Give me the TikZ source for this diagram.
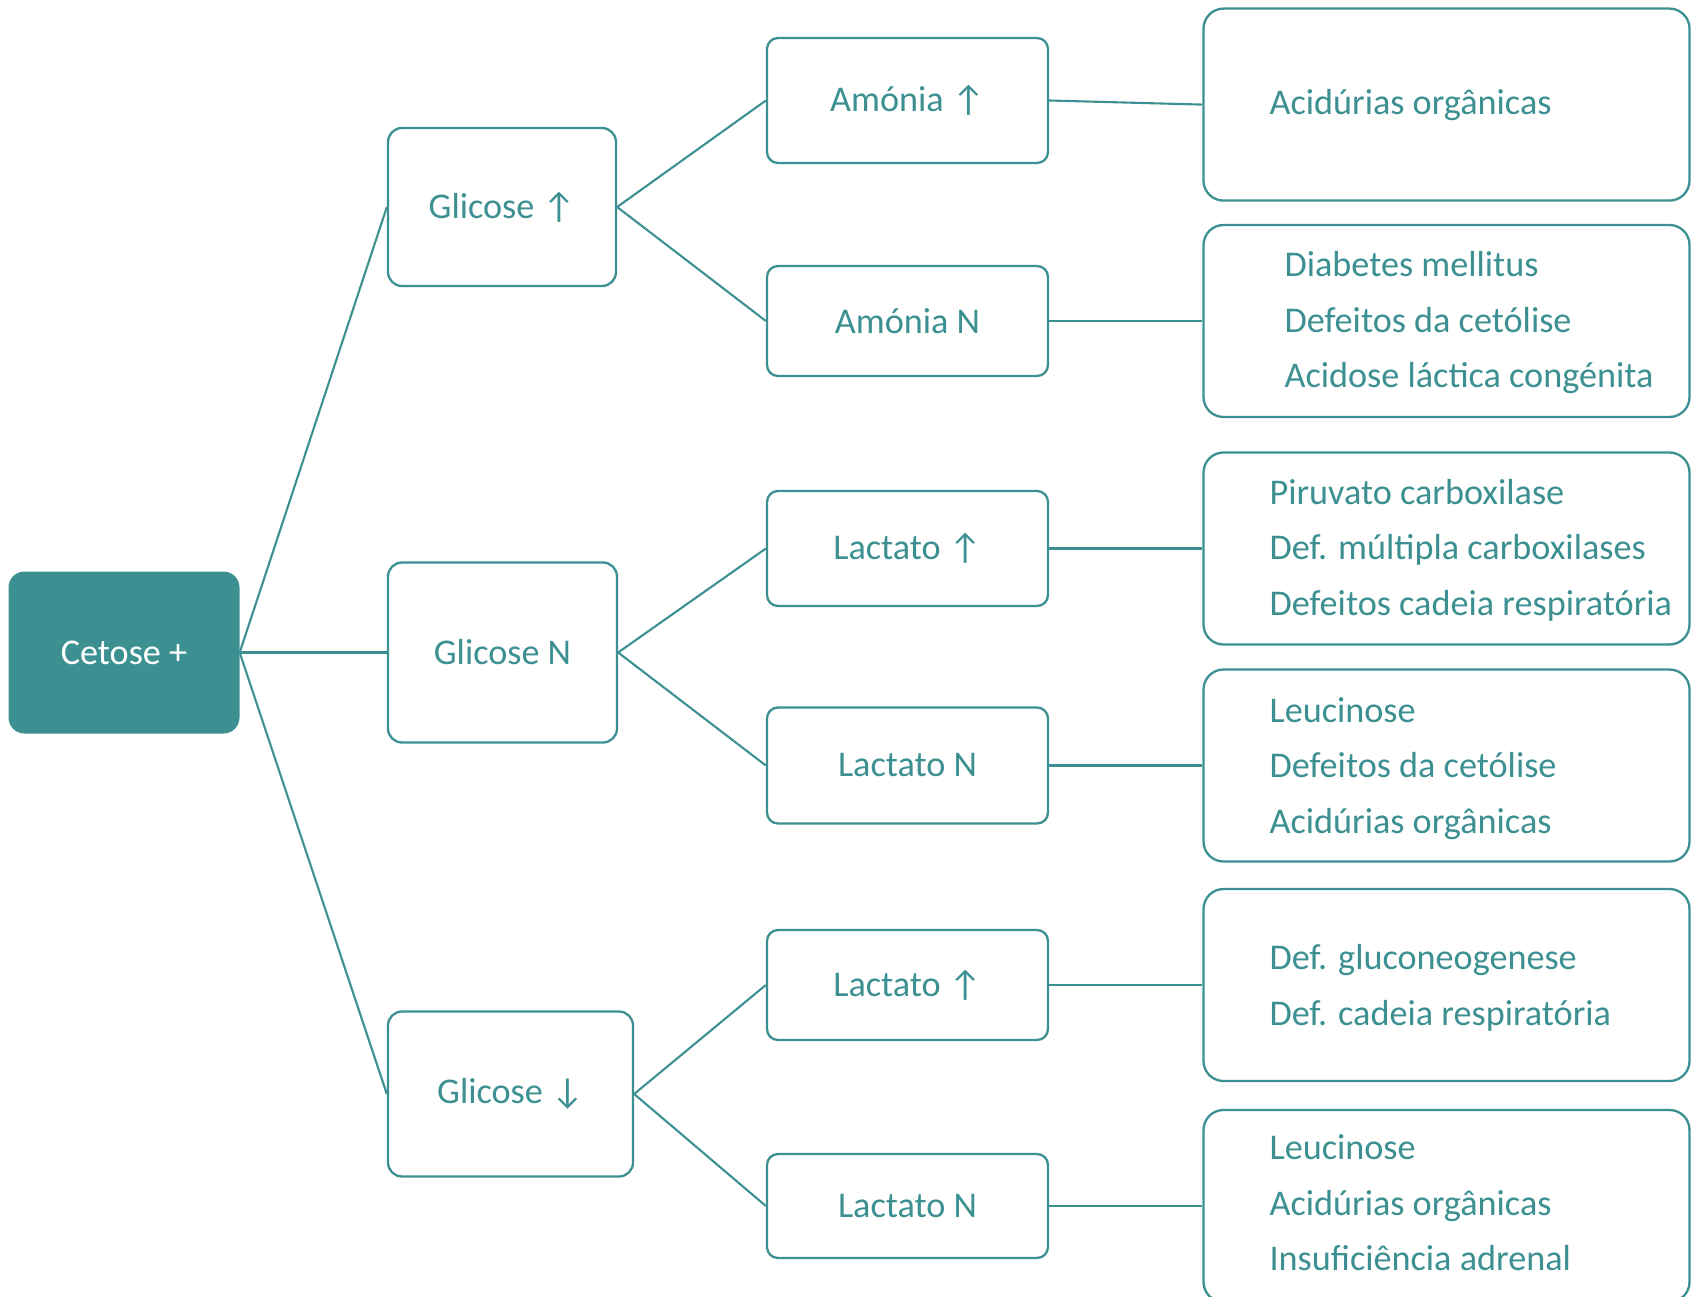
\documentclass[tikz,border=0pt]{standalone}
\usepackage{fontspec}
\setmainfont{Carlito}
\definecolor{tealc}{HTML}{3D9091}
\begin{document}
\begin{tikzpicture}[x=1pt,y=-1pt,
  txt/.style={font=\fontsize{36.2}{55.5}\selectfont},
  lbox/.style={txt, draw=tealc, line width=2.3pt, rounded corners=14pt, fill=white, text=tealc, inner sep=0pt},
  rbox/.style={draw=tealc, line width=2.3pt, rounded corners=20pt, fill=white, inner sep=0pt, minimum width=486, minimum height=192},
  rtext/.style={txt, text=tealc, align=left, inner sep=0pt, anchor=west},
  rootbox/.style={txt, fill=tealc, text=white, rounded corners=16pt, inner sep=0pt},
  conn/.style={draw=tealc, line width=2.1pt}
]
\clip (0,0) rectangle (1691,1297);
% root
\node[rootbox, minimum width=231, minimum height=162] (cet) at (124,652.5) {Cetose +};
% level 1
\node[lbox, minimum width=228, minimum height=158] (g1) at (502,207) {Glicose ↑};
\node[lbox, minimum width=229, minimum height=180] (g2) at (502.5,652.5) {Glicose N};
\node[lbox, minimum width=245, minimum height=165] (g3) at (510.5,1094) {Glicose ↓};
% level 2
\node[lbox, rounded corners=11pt, minimum width=281, minimum height=125] (a1) at (907.5,100.5) {Amónia ↑};
\node[lbox, rounded corners=11pt, minimum width=281, minimum height=110] (a2) at (907.5,321) {Amónia N};
\node[lbox, rounded corners=11pt, minimum width=281, minimum height=115] (l1) at (907.5,548.5) {Lactato ↑};
\node[lbox, rounded corners=11pt, minimum width=281, minimum height=116] (l2) at (907.5,765.5) {Lactato N};
\node[lbox, rounded corners=11pt, minimum width=281, minimum height=110] (l3) at (907.5,985) {Lactato ↑};
\node[lbox, rounded corners=11pt, minimum width=281, minimum height=104] (l4) at (907.5,1206) {Lactato N};
% level 3
\node[rbox] (r1) at (1446.5,104.6) {};
\node[rbox] (r2) at (1446.5,321) {};
\node[rbox] (r3) at (1446.5,548.5) {};
\node[rbox] (r4) at (1446.5,765.5) {};
\node[rbox] (r5) at (1446.5,985) {};
\node[rbox] (r6) at (1446.5,1206) {};
\node[rtext] (t1) at ([xshift=67pt,yshift=0pt]r1.west) {Acidúrias orgânicas};
\node[rtext] (t2) at ([xshift=82pt,yshift=-1.7pt]r2.west) {Diabetes mellitus\\Defeitos da cetólise\\Acidose láctica congénita};
\node[rtext] (t3) at ([xshift=67pt,yshift=-1.5pt]r3.west) {Piruvato carboxilase\\Def. múltipla carboxilases\\Defeitos cadeia respiratória};
\node[rtext] (t4) at ([xshift=67pt,yshift=-2.8pt]r4.west) {Leucinose\\Defeitos da cetólise\\Acidúrias orgânicas};
\node[rtext] (t5) at ([xshift=67pt,yshift=-2.8pt]r5.west) {Def. gluconeogenese\\Def. cadeia respiratória};
\node[rtext] (t6) at ([xshift=67pt,yshift=3pt]r6.west) {Leucinose\\Acidúrias orgânicas\\Insuficiência adrenal};
% connectors
\draw[conn] (cet.east) -- (g1.west);
\draw[conn] (cet.east) -- (g2.west);
\draw[conn] (cet.east) -- (g3.west);
\draw[conn] (g1.east) -- (a1.west);
\draw[conn] (g1.east) -- (a2.west);
\draw[conn] (g2.east) -- (l1.west);
\draw[conn] (g2.east) -- (l2.west);
\draw[conn] (g3.east) -- (l3.west);
\draw[conn] (g3.east) -- (l4.west);
\draw[conn] (a1.east) -- (r1.west);
\draw[conn] (a2.east) -- (r2.west);
\draw[conn] (l1.east) -- (r3.west);
\draw[conn] (l2.east) -- (r4.west);
\draw[conn] (l3.east) -- (r5.west);
\draw[conn] (l4.east) -- (r6.west);
\end{tikzpicture}
\end{document}
